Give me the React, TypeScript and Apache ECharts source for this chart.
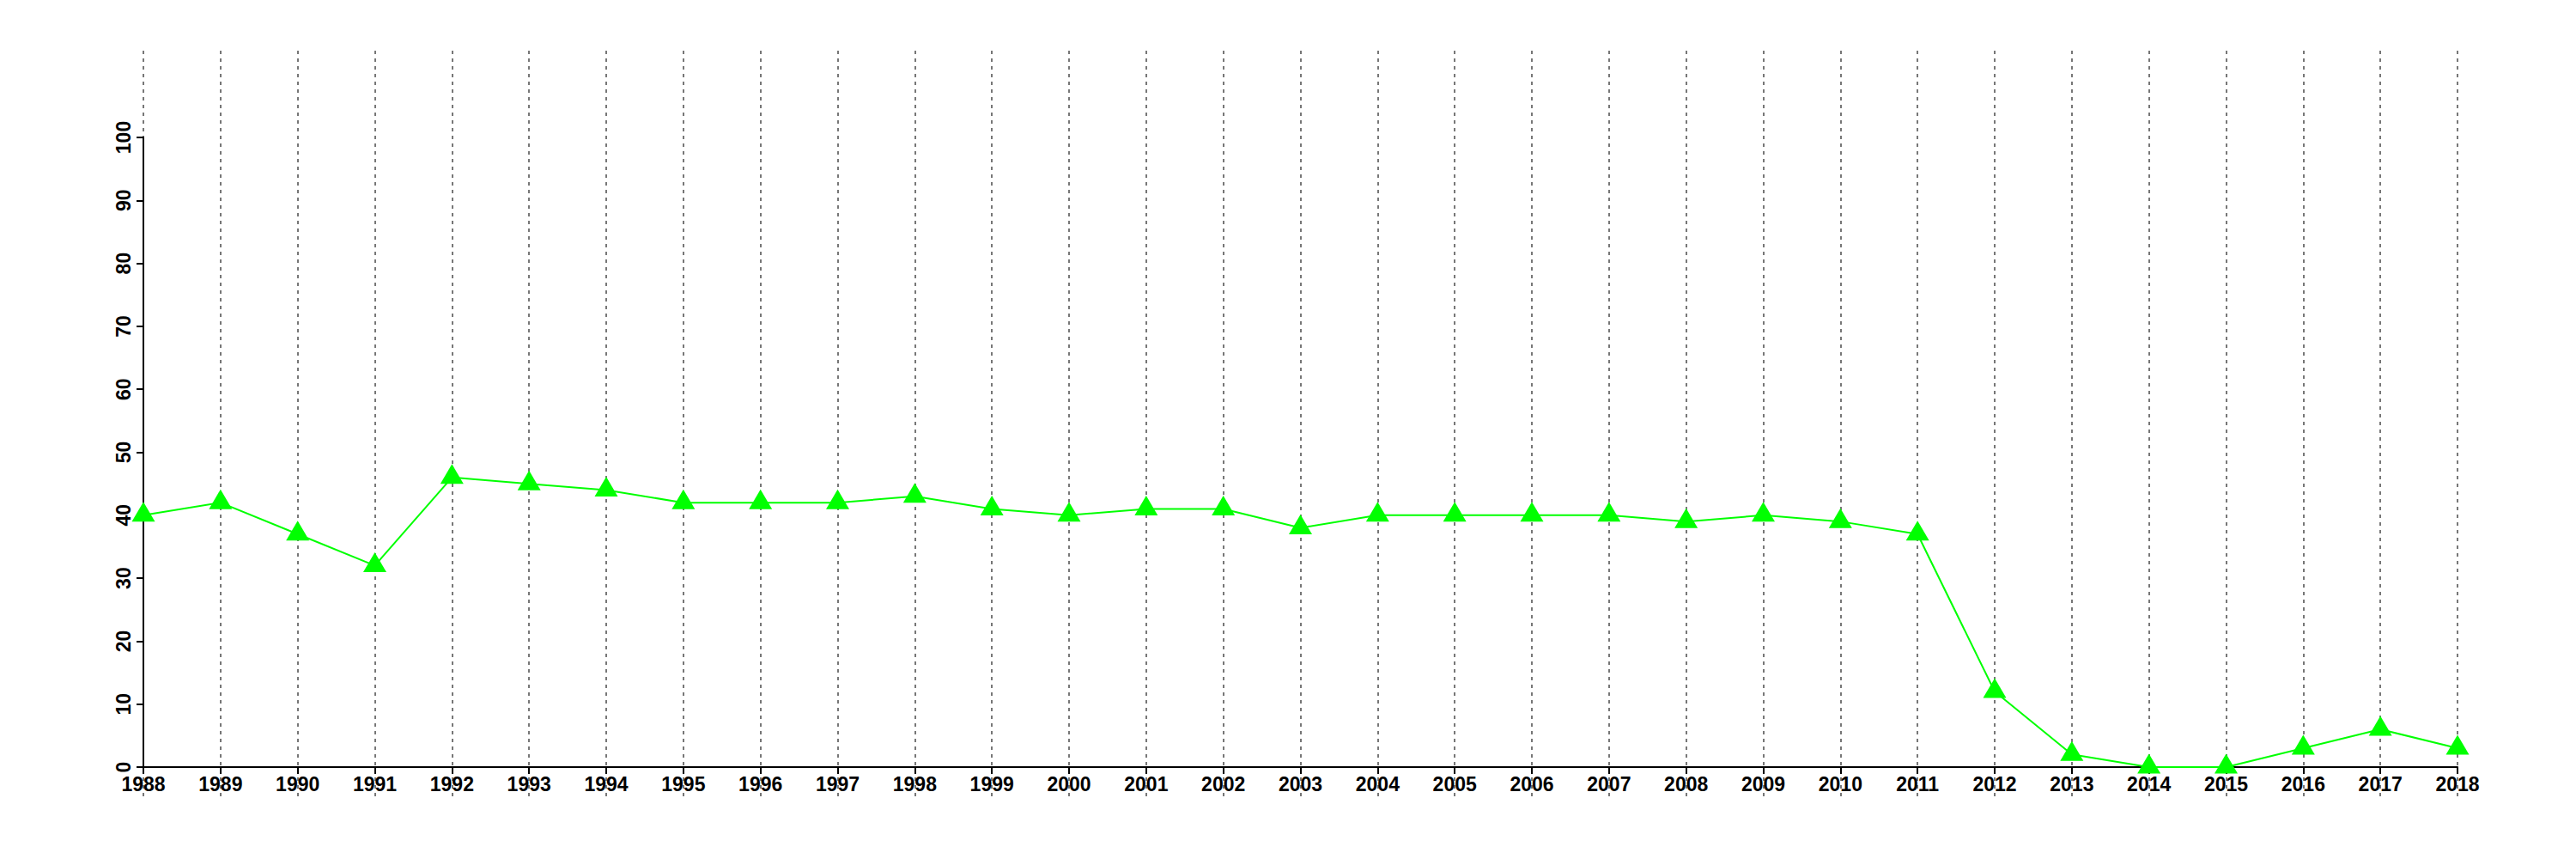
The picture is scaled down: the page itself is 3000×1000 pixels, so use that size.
import React, { useEffect, useRef } from "react";
import * as echarts from "echarts";

const years = [
  "1988", "1989", "1990", "1991", "1992", "1993", "1994", "1995", "1996", "1997",
  "1998", "1999", "2000", "2001", "2002", "2003", "2004", "2005", "2006", "2007",
  "2008", "2009", "2010", "2011", "2012", "2013", "2014", "2015", "2016", "2017", "2018",
];
const values = [
  40, 42, 37, 32, 46, 45, 44, 42, 42, 42,
  43, 41, 40, 41, 41, 38, 40, 40, 40, 40,
  39, 40, 39, 37, 12, 2, 0, 0, 3, 6, 3,
];
const yMin = 0;
const yMax = 100;
const yStep = 10;

const FONT = "'Liberation Sans', Arial, Helvetica, sans-serif";

export default function App() {
  const ref = useRef<HTMLDivElement>(null);
  useEffect(() => {
    document.body.style.margin = "0";
    if (!ref.current) return;
    const chart = echarts.init(ref.current, null, { renderer: "svg" });
    const left = 167;
    const right = 138;
    chart.setOption({
      animation: false,
      backgroundColor: "#ffffff",
      grid: [
        { left, right, top: 160, bottom: 107, containLabel: false },
        { left, right, top: 59, bottom: 73, containLabel: false },
      ],
      xAxis: [
        {
          type: "category",
          gridIndex: 0,
          data: years,
          boundaryGap: false,
          axisLine: { show: true, onZero: false, lineStyle: { color: "#000", width: 2 } },
          axisTick: { show: true, inside: false, length: 8, alignWithLabel: true, lineStyle: { color: "#000", width: 2 } },
          axisLabel: {
            show: true,
            interval: 0,
            margin: 8,
            color: "#000",
            fontFamily: FONT,
            fontWeight: "bold",
            fontSize: 23,
          },
          splitLine: { show: false },
          z: 5,
        },
        {
          type: "category",
          gridIndex: 1,
          data: years,
          boundaryGap: false,
          axisLine: { show: false },
          axisTick: { show: false },
          axisLabel: { show: false },
          splitLine: {
            show: true,
            interval: 0,
            lineStyle: { color: "#777", width: 2, type: [4, 5] },
          },
          z: 0,
        },
      ],
      yAxis: [
        {
          type: "value",
          gridIndex: 0,
          min: yMin,
          max: yMax,
          interval: yStep,
          axisLine: { show: true, lineStyle: { color: "#000", width: 2 } },
          axisTick: { show: true, inside: false, length: 8, lineStyle: { color: "#000", width: 2 } },
          axisLabel: {
            show: true,
            rotate: 90,
            margin: 12,
            color: "#000",
            fontFamily: FONT,
            fontWeight: "bold",
            fontSize: 23,
          },
          splitLine: { show: false },
          z: 5,
        },
        {
          type: "value",
          gridIndex: 1,
          min: 0,
          max: 1,
          show: false,
          splitLine: { show: false },
        },
      ],
      series: [
        {
          type: "line",
          xAxisIndex: 0,
          yAxisIndex: 0,
          data: values,
          symbol: "triangle",
          symbolSize: [27, 23],
          symbolOffset: [0, -4],
          showAllSymbol: true,
          clip: false,
          itemStyle: { color: "#00ff00", borderWidth: 0 },
          lineStyle: { color: "#00ff00", width: 2 },
          z: 10,
        },
      ],
    });
    return () => chart.dispose();
  }, []);
  return <div ref={ref} style={{ width: 3000, height: 1000 }} />;
}
